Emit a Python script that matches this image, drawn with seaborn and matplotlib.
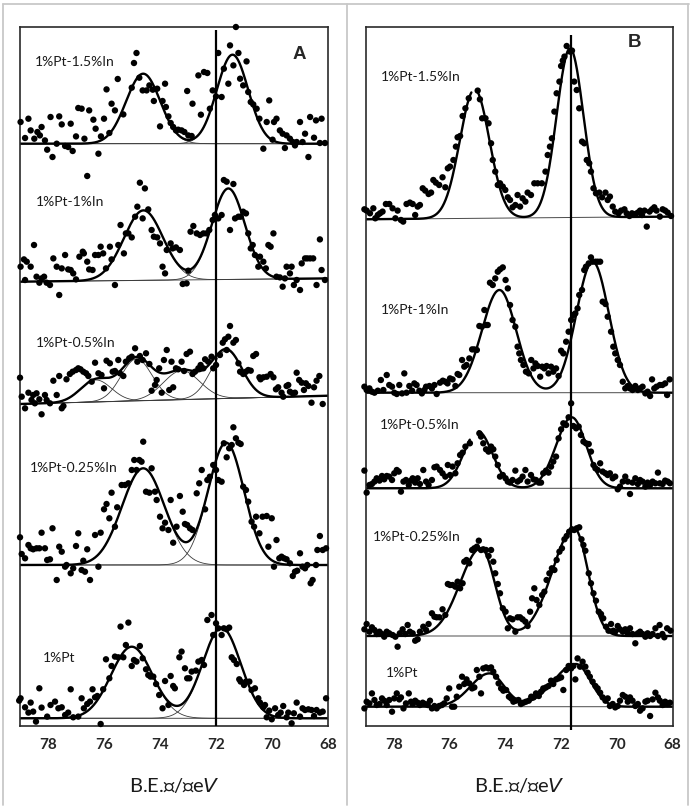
import numpy as np
import pandas as pd
import matplotlib
matplotlib.use("Agg")
import matplotlib.pyplot as plt
import seaborn as sns

# ---------------- data ----------------
samples = ["1%Pt-1.5%In", "1%Pt-1%In", "1%Pt-0.5%In", "1%Pt-0.25%In", "1%Pt"]
tick_values = [78, 76, 74, 72, 70, 68]
ref_line_A = 72.0
ref_line_B = 71.65

# baseline (intensity at 79 eV, at 68 eV) for each spectrum, stacked offsets
base_A = [(582.0, 582.0), (444.0, 447.3), (321.7, 330.0), (160.7, 160.7), (7.4, 7.4)]
base_B = [(506.4, 509.1), (333.0, 333.0), (237.4, 237.4), (89.7, 89.7), (19.0, 19.0)]

# fitted peaks: (centre eV, height, sigma high-BE side, sigma low-BE side)
peaks_A = [
    [(74.61, 70.0, 0.61, 0.61), (71.42, 89.0, 0.56, 0.56)],
    [(74.60, 70.0, 0.70, 0.70), (71.57, 91.0, 0.59, 0.59)],
    [(76.30, 22.0, 0.55, 0.55), (74.85, 42.0, 0.55, 0.55), (73.24, 29.0, 0.65, 0.65), (71.63, 48.0, 0.55, 0.55)],
    [(74.61, 96.7, 0.76, 0.76), (71.65, 122.3, 0.64, 0.64)],
    [(75.02, 71.6, 0.74, 0.74), (71.81, 90.6, 0.68, 0.68)],
]
peaks_B = [
    [(75.10, 129.0, 0.53, 0.53), (71.68, 169.0, 0.48, 0.48)],
    [(74.21, 102.7, 0.63, 0.60), (70.87, 131.0, 0.58, 0.58)],
    [(74.98, 57.0, 0.52, 0.52), (71.62, 71.0, 0.56, 0.52)],
    [(74.87, 87.7, 0.75, 0.49), (71.53, 107.7, 0.78, 0.49)],
    [(74.57, 33.3, 0.68, 0.53), (71.47, 42.7, 0.80, 0.52)],
]
# gaps in the drawn envelope near a peak top (panel B)
gaps_B = [(74.99, 75.21), None, (74.95, 75.27), None, None]

# ---- measured points, panel A (BE in eV, intensity above baseline) ----
A15_be = [78.99,78.71,78.83,78.63,78.50,78.39,78.24,78.30,78.12,78.04,77.85,77.92,77.70,77.61,77.52,77.40,77.29,77.20,77.13,77.01,
          76.93,76.81,76.71,76.54,76.39,76.31,76.21,76.12,76.01,75.92,75.82,75.74,75.62,75.52,75.32,75.02,74.94,74.85,74.75,74.63,
          74.49,74.39,74.27,74.23,74.11,74.01,73.92,73.83,73.80,73.71,73.63,73.54,73.44,73.36,73.24,73.14,73.04,73.00,72.88,72.85,
          72.64,72.55,72.44,72.32,72.23,72.13,72.01,71.93,71.81,71.73,71.57,71.51,71.39,71.30,71.21,71.15,71.04,70.92,70.86,70.77,
          70.68,70.56,70.46,70.32,70.20,70.11,69.99,69.94,69.85,69.73,69.63,69.55,69.49,69.37,69.27,69.19,69.13,69.01,68.92,68.83,
          68.71,68.65,68.51,68.44,68.30,68.24,68.12]
A15_i = [21.7,25,5.7,13.3,5,11.7,16.7,8.3,3.3,-6,-13.3,26.7,0,27.3,19.3,-2.3,-3.3,20,-7.3,7.3,
         35.7,35,5,33.3,24,15,-10,7.3,25,54.3,10.7,40,33.3,64.7,29.3,56,80.7,90.7,66,53.3,
         53.3,58.3,54,42.7,55,17.3,42.7,60,36.7,27.3,20.7,16.7,13.3,14,13.3,11.7,52.7,8.3,7.7,40,
         68.3,29,71.7,70.7,35,53.3,47.3,90.7,46.7,75,60,98.3,78.3,116.7,90.7,65,58.3,82.3,51.7,41.7,
         39.3,35,25,-5,21.7,43.3,4,21.7,25,13.3,10,-4.3,8.3,5,1.7,-1.7,1.7,21.7,1.7,10,
         -13.3,26.7,6,23.3,0.7,25,0.7]

A10_be = [78.99,78.87,78.77,78.63,78.51,78.83,78.42,78.32,78.24,78.15,78.06,77.94,77.82,77.70,77.61,77.52,77.40,77.29,77.20,77.11,
          77.01,76.89,76.77,76.73,76.61,76.61,76.54,76.42,76.33,76.21,76.13,76.04,75.94,75.80,75.74,75.62,75.50,75.42,75.30,75.23,
          75.14,75.02,74.90,74.82,74.73,74.63,74.55,74.43,74.31,74.23,74.11,74.01,73.92,73.83,73.77,73.63,73.56,73.44,73.30,73.20,
          73.06,73.00,72.92,72.82,72.70,72.58,72.46,72.35,72.25,72.13,72.05,71.93,71.81,71.73,71.63,71.51,71.39,71.33,71.21,71.13,
          71.04,70.94,70.86,70.77,70.70,70.62,70.50,70.44,70.32,70.23,70.14,70.06,69.96,69.85,69.73,69.63,69.55,69.49,69.37,69.31,
          69.23,69.13,69.01,68.95,68.83,68.75,68.65,68.54,68.42,68.30,68.24,68.12]
A10_i = [15,22.3,20,15,36.7,1.7,5,-1,3.3,5,-1,-3.3,23.3,15,-13.3,13.3,26.7,12.3,11.7,8.3,
         2.3,25,30,28.3,20,105.7,12.3,11.7,26.7,26.7,35,28.3,13.3,35,22.3,-3.3,36.7,56.7,28.3,48.3,
         48.3,44.3,65,75,99,63.3,93.3,72.3,51.7,45,44.3,38.3,15,8.3,31.7,38.3,33.3,34.3,31.7,-2.3,
         -1.7,11,50,55.7,48.3,46.7,48.3,48.3,51.7,61.7,66.7,63.3,66.7,101.7,100,51.7,97.7,63.3,65,65,
         70,68.3,48.3,33.3,36.7,26.7,15,25,20,13.3,36.7,35,48.3,5,4.3,-5,3.3,15,8.3,15,
         -3.3,1.7,-8.3,18.3,23.3,23.3,23.3,23.3,-3.3,42.3,11.7,1.7]

A05_be = [79.01,78.95,78.83,78.71,78.60,78.54,78.48,78.42,78.32,78.24,78.12,78.06,77.94,77.82,77.70,77.61,77.52,77.46,77.35,77.23,
          77.13,77.01,76.93,76.85,76.75,76.65,76.57,76.45,76.33,76.21,76.10,76.01,75.92,75.80,75.70,75.62,75.50,75.44,75.32,75.23,
          75.11,75.02,74.90,74.82,74.73,74.63,74.51,74.39,74.31,74.19,74.13,74.04,73.95,73.87,73.77,73.68,73.60,73.54,73.44,73.36,
          73.24,73.15,73.06,72.94,72.85,72.76,72.64,72.56,72.46,72.40,72.29,72.17,72.11,72.01,71.87,71.77,71.69,71.63,71.57,71.51,
          71.39,71.30,71.21,71.15,71.04,70.94,70.86,70.77,70.68,70.58,70.46,70.42,70.32,70.20,70.06,69.96,69.87,69.79,69.67,69.61,
          69.49,69.43,69.37,69.27,69.19,69.13,69.04,68.95,68.87,68.80,68.71,68.60,68.51,68.42,68.32,68.20]
A05_i = [26.3,7.3,-4.3,11.3,4,9,0.7,10.7,4.7,-10.3,9,4,0.7,23.3,9,28,-4.3,-2,24.7,30,
         32.3,34,35.7,34.7,32.3,30.7,28,22.3,41.3,30.7,29,15.7,43.3,40.7,32.3,33,44,30.7,28,42.3,
         45.7,47.3,55.7,42.3,48,44,50.7,40,13.3,19,24,35.7,11.3,44,54,14,42.3,16.7,35.7,34.7,
         42.3,33,50,52.3,30,32.3,35.7,39,35.7,44.7,42.3,47.3,35.7,39,49,61.3,64.7,54,67.3,78,
         61.3,64,40.7,32.3,30,32.3,34,33.3,48,50,26.7,24.7,26.7,27.3,30,26.7,14.7,16.7,11.3,7.3,
         18,19,12.3,10.7,11.3,31.3,24,21.3,14,20.7,18,1.3,16.7,23.3,28,0]

A025_be = [79.01,78.95,78.83,78.71,78.63,78.54,78.42,78.32,78.24,78.12,78.04,77.94,77.85,77.70,77.61,77.52,77.40,77.35,77.20,77.11,
           77.01,76.93,76.81,76.75,76.69,76.61,76.51,76.33,76.21,76.13,76.01,75.92,75.82,75.74,75.62,75.54,75.38,75.26,75.14,75.02,
           74.93,74.85,74.75,74.67,74.61,74.51,74.39,74.31,74.19,74.13,74.01,73.92,73.83,73.71,73.63,73.54,73.42,73.30,73.20,73.12,
           73.04,72.94,72.85,72.70,72.61,72.52,72.40,72.32,72.23,72.11,72.01,71.93,71.81,71.73,71.63,71.54,71.45,71.39,71.30,71.21,
           71.13,71.04,70.94,70.86,70.74,70.65,70.58,70.46,70.35,70.20,70.14,70.02,69.94,69.85,69.75,69.67,69.58,69.49,69.37,69.27,
           69.19,69.11,69.01,68.92,68.83,68.75,68.63,68.56,68.44,68.39,68.30,68.20,68.08]
A025_i = [27.7,11,6.7,20,16.7,15.7,16.7,16.7,32.3,16.7,5,5.7,36.7,-15,18.3,13.3,-1.7,0,-8.3,-3.3,
          19,31.7,-5,4.3,-6.7,15.7,-15,30,-1.7,32.3,55.7,61,46.7,72.3,38.3,57.7,80,80,81.7,95,
          105,95,105,103.3,123.3,73.3,72.3,96.7,73.3,65,48.3,36.7,42.3,35,65,22.3,38.3,69,53.3,41,
          40,36.7,35,71.7,81.7,95,55.7,85,88.3,100,95,85,83.3,121.7,107.7,116.7,120,137.7,126.7,122.3,
          121,78.3,75,63.3,43.3,38.3,48.3,31.7,48.3,49,18.3,46.7,-1.7,25,6.7,8.3,6.7,5.7,1.7,-11,
          -6.7,-5.7,11.7,-1.7,-3.3,0,-18.3,-15,0,15,29,15,16.7]

A00_be = [79.04,78.99,78.83,78.71,78.63,78.54,78.44,78.32,78.24,78.04,77.92,77.76,77.64,77.52,77.40,77.29,77.20,77.11,76.93,76.81,
          76.73,76.61,76.51,76.42,76.33,76.25,76.13,76.04,75.94,75.82,75.74,75.62,75.50,75.42,75.32,75.23,75.14,75.02,74.94,74.85,
          74.73,74.63,74.51,74.43,74.35,74.25,74.15,74.04,73.92,73.83,73.71,73.63,73.54,73.48,73.32,73.24,73.12,73.04,72.96,72.88,
          72.73,72.64,72.52,72.44,72.32,72.17,72.11,72.01,71.93,71.81,71.73,71.63,71.54,71.45,71.37,71.27,71.18,71.13,71.01,70.94,
          70.82,70.74,70.62,70.50,70.44,70.32,70.26,70.20,70.11,70.02,69.90,69.79,69.70,69.61,69.49,69.43,69.31,69.23,69.13,69.01,
          68.92,68.83,68.71,68.60,68.51,68.42,68.30,68.20,68.08]
A00_i = [17.7,20,11,5.7,15.7,6.7,-3.3,30,10.7,1.7,13.3,16.7,10,11,3.3,5.7,29,1,1.7,20,
         10,14.3,16.7,29,21,22.3,-5.7,29,59,40,52.3,61.7,61,91.7,61,73.3,95.7,52.3,58.3,56.7,
         72.3,60,49,43.3,41.7,41.7,34.3,23.3,10,37.3,13.3,42.3,32.3,30,61,66.7,50,40,40,46.7,
         47.7,56.7,58.3,53.3,98.3,103.3,83.3,95,90,83.3,90,89,90.7,61,58.3,54.3,39,36.7,33.3,36.7,
         36.7,28.3,30,20,15.7,11,13.3,1,7.7,-1,10,3.3,5.7,12.3,1,5.7,-5,5,15.7,1.7,
         10,8.3,9,8.3,2.3,8.3,5.7,6.7,20]

# ---- measured points, panel B ----
B15_be = [79.05,78.97,78.85,78.73,78.66,78.57,78.49,78.40,78.28,78.16,78.04,77.94,77.86,77.74,77.66,77.54,77.42,77.32,77.23,77.14,
          77.06,76.96,76.87,76.75,76.66,76.58,76.49,76.37,76.25,76.15,76.06,75.98,75.86,75.77,75.71,75.62,75.53,75.43,75.31,74.99,
          74.91,74.83,74.71,74.60,74.51,74.45,74.36,74.27,74.19,74.09,74.00,73.91,73.83,73.74,73.64,73.56,73.47,73.38,73.28,73.20,
          73.08,72.96,72.84,72.69,72.56,72.48,72.40,72.33,72.24,72.16,72.06,72.00,71.94,71.88,71.80,71.68,71.61,71.53,71.44,71.35,
          71.25,71.17,71.08,70.99,70.93,70.84,70.75,70.63,70.53,70.41,70.33,70.25,70.15,70.06,69.94,69.85,69.73,69.65,69.55,69.46,
          69.34,69.25,69.17,69.10,69.01,68.93,68.83,68.74,68.66,68.58,68.46,68.36,68.27,68.18,68.06]
B15_i = [10,8.7,6,11,1,4.3,6,7.7,15.3,15.3,11,1,8.7,-0.7,-2.3,15.3,16.7,15.3,4.3,12.7,
         14.3,31,28.7,25.3,26.7,39.3,36.7,34.3,42,32,51,52.7,59.3,72.7,82,83.3,103.3,111,121,128.7,
         120,101,101,96,76,59.3,47.7,34.3,36,32.7,29.3,22,19.3,12,14.3,24.3,12.7,21,17.7,26.7,
         24.3,36,36,36,47.7,64.3,72.7,81,107.7,126,137.7,153.3,158.7,162.7,173.3,167.7,168.7,137.7,129.3,111,
         77.7,76,59.3,56,47.7,31,26,26.7,22,26.7,19.3,22.7,12.7,7.7,6,8.7,10,6,3.3,6,
         5.3,6.7,8.7,4.3,8.7,-7.3,7.7,10,12,8.7,2.7,10,8.7,6.7,3.3]

B10_be = [79.05,78.97,78.87,78.78,78.69,78.57,78.46,78.37,78.25,78.16,78.06,77.98,77.89,77.80,77.70,77.62,77.54,77.44,77.34,77.26,
          77.18,77.08,76.99,76.90,76.84,76.72,76.63,76.54,76.46,76.34,76.24,76.15,76.07,75.98,75.89,75.79,75.71,75.65,75.55,75.47,
          75.39,75.29,75.19,75.11,75.02,74.93,74.84,74.75,74.69,74.63,74.55,74.45,74.36,74.27,74.19,74.09,73.99,73.91,73.83,73.74,
          73.64,73.56,73.50,73.44,73.35,73.26,73.16,73.07,72.99,72.92,72.84,72.75,72.68,72.60,72.52,72.45,72.36,72.28,72.18,72.09,
          72.00,71.92,71.82,71.73,71.64,71.56,71.49,71.41,71.35,71.25,71.17,71.11,71.01,70.93,70.87,70.77,70.69,70.60,70.51,70.41,
          70.33,70.21,70.13,70.06,69.97,69.89,69.79,69.70,69.61,69.53,69.44,69.34,69.25,69.17,69.08,68.98,68.90,68.81,68.74,68.66,
          68.58,68.46,68.37,68.27,68.20,68.11]
B10_i = [6,2.7,4.3,1,0,2,12.7,2.7,17.7,7.7,6,0,-1.3,7.7,-0.7,19.3,0,6.7,2,9.3,
         7.7,2,-0.7,2.7,6,6.7,4.3,7.7,-1.3,10,12,11,9.3,14.3,13.3,6.7,18.7,17.7,32.7,26,
         27.7,34.3,43.3,43.3,42.7,66.7,66,82.7,67.7,67.7,110,107.7,114.3,121,123.3,125.3,112.7,104.3,87.7,72.7,
         66,46,39.3,32.7,27.7,21,19.3,32.7,24.3,29.3,26.7,16,26,24.3,26.7,19.3,26,21,24.3,16.7,
         42,39.3,51,61,72.7,77.7,79.3,84.3,97.7,102.7,122.7,126,129.3,135.3,131,131,131,131,91,88.7,
         76,61,46,39.3,32.7,27.7,11,4.3,6.7,4.3,2.7,6.7,2.7,4.3,6,-0.7,1,-3.3,13.3,4.3,
         6,7.7,7.7,9.3,-2.3,13.3]

B05_be = [79.05,78.97,78.87,78.78,78.69,78.61,78.51,78.42,78.34,78.25,78.16,78.06,77.98,77.89,77.82,77.74,77.65,77.56,77.46,77.38,
          77.32,77.23,77.14,77.06,76.94,76.84,76.75,76.63,76.54,76.46,76.34,76.25,76.15,76.06,75.98,75.89,75.79,75.71,75.62,75.53,
          75.43,75.27,74.93,74.87,74.79,74.69,74.60,74.51,74.43,74.36,74.27,74.19,74.09,73.99,73.91,73.83,73.74,73.64,73.56,73.47,
          73.38,73.28,73.20,73.08,72.99,72.90,72.80,72.72,72.64,72.54,72.45,72.36,72.28,72.18,72.09,72.00,71.92,71.82,71.73,71.64,
          71.56,71.46,71.37,71.29,71.20,71.11,71.01,70.93,70.84,70.77,70.69,70.60,70.51,70.41,70.33,70.25,70.15,70.06,69.97,69.89,
          69.79,69.70,69.61,69.53,69.44,69.34,69.25,69.17,69.08,68.98,68.90,68.81,68.72,68.62,68.53,68.46,68.36,68.27,68.18,68.10]
B05_i = [17.7,-4.3,3.3,4.3,6.7,10,7.7,12.3,9,12.3,11.7,8.3,15,18.3,16.7,-3.3,6.7,8.3,3.3,7.7,
         10,5.7,10,4.3,18.3,6.7,3.3,8.3,21,21.7,18.3,15,11.7,23.3,13.3,21.7,15,25,33.3,35.7,
         41.7,45,55,51.7,45,39,36.7,41.7,39,31.7,23.3,11.7,13.3,10,6.7,5.7,8.3,17.7,6.7,8.3,
         11.7,18.3,6.7,13.3,9,8.3,5.7,5.7,15,17.7,15.7,21.7,26.7,31.7,50,59,65,63.3,71,85,
         62.3,60,61.7,53.3,46.7,45,44.3,36.7,23.3,20,18.3,25,16.7,15,13.3,15,10,11.7,-1,1.7,
         6.7,11.7,6.7,-5.7,5.7,10,4.3,8.3,6.7,1.7,5.7,3.3,6.7,5,15.7,5,4.3,7.7,6.7,5]

B025_be = [79.05,78.97,78.87,78.78,78.69,78.61,78.51,78.42,78.34,78.25,78.16,78.04,77.94,77.86,77.78,77.68,77.58,77.50,77.42,77.32,
           77.23,77.14,77.06,76.94,76.84,76.75,76.63,76.54,76.46,76.36,76.25,76.15,76.06,75.98,75.89,75.79,75.71,75.62,75.53,75.47,
           75.39,75.29,75.19,75.11,75.02,74.95,74.87,74.79,74.69,74.60,74.51,74.43,74.36,74.27,74.19,74.09,73.99,73.91,73.83,73.74,
           73.64,73.56,73.47,73.38,73.28,73.20,73.11,73.04,72.96,72.88,72.78,72.68,72.60,72.52,72.42,72.33,72.24,72.16,72.06,71.97,
           71.88,71.80,71.71,71.61,71.53,71.44,71.35,71.27,71.20,71.13,71.01,70.93,70.84,70.75,70.65,70.57,70.49,70.39,70.30,70.21,
           70.13,70.06,69.97,69.89,69.79,69.70,69.61,69.53,69.44,69.34,69.25,69.17,69.08,68.98,68.90,68.81,68.72,68.62,68.53,68.47,
           68.37,68.30,68.20,68.08]
B025_i = [6.7,12,4.3,8.7,6,2,4.3,2,-0.7,4.3,2.7,1,-0.7,-10.7,2.7,6.7,2,11,4.3,2.7,
          -4.7,-3.3,4.3,9.3,6,12,22.7,19.3,18.7,18.7,26.7,21,52,51,51,49.3,54.3,47.7,52.7,74.3,
          76,72.7,86,87.7,89.3,95.3,86,86.7,86,80,86,74.3,62.7,52,42.7,27.7,24.3,7.7,17.7,16.7,
          4.3,18.7,18.7,16.7,14.3,10,24.3,37.7,47.7,36,31,41,44.3,56,62.7,67.7,66,76,84.3,87.7,
          96.7,100,104.3,106.7,106,107.7,108.7,96.7,91,85.3,62.7,52.7,42.7,35.3,24.3,22,17.7,9.3,5.3,12,
          5.3,4.3,10,6.7,4.3,6.7,2.7,7.7,2,-7.3,2.7,4.3,2,-0.7,2.7,0,2,7.7,0,11,
          2,-1.3,7.7,5.3]

B00_be = [79.05,78.97,78.87,78.78,78.69,78.61,78.51,78.42,78.34,78.25,78.16,78.06,77.98,77.89,77.80,77.74,77.65,77.56,77.46,77.38,
          77.32,77.23,77.14,77.06,76.96,76.87,76.78,76.70,76.63,76.54,76.46,76.37,76.27,76.19,76.10,76.01,75.91,75.83,75.74,75.65,
          75.55,75.47,75.39,75.29,75.19,75.11,75.02,74.93,74.87,74.79,74.69,74.60,74.51,74.43,74.33,74.24,74.15,74.07,73.97,73.87,
          73.79,73.71,73.62,73.53,73.44,73.35,73.26,73.16,73.07,72.99,72.90,72.80,72.72,72.64,72.54,72.45,72.36,72.28,72.18,72.09,
          72.00,71.92,71.82,71.73,71.64,71.56,71.49,71.41,71.32,71.23,71.13,71.05,70.97,70.87,70.77,70.69,70.60,70.51,70.41,70.33,
          70.25,70.15,70.06,69.97,69.89,69.79,69.70,69.61,69.53,69.44,69.34,69.25,69.17,69.08,68.98,68.90,68.81,68.72,68.62,68.53,
          68.46,68.36,68.27,68.18,68.10]
B00_i = [-1.7,5,3.3,13.3,6.7,1.7,2.7,8.3,6,1.7,6.7,-5,8.3,13.3,7.3,9.3,-1.7,3.3,13.3,5,
         2.7,6,4,1.7,4,2.7,1.7,6,-1.7,0.7,-1.7,0.7,1.7,3.3,8.3,18.3,0,0,10,20,
         30,22.7,27.3,23.3,18.3,19.3,36.7,30,13.3,38.3,39.3,38.3,39.3,35,30,23.3,18.3,16,16.7,10,
         8.3,5,6,6.7,2.7,4,5,6,10,9.3,13.3,10.7,15,18.3,19.3,20.7,26,22.7,27.3,28.3,
         29.3,16.7,36.7,40.7,38.3,40.7,27.3,48.3,40,45,40,34,30,25,20.7,18.3,14,9.3,6,8.3,
         0.7,2.7,-0.7,0.7,6,11.7,10,5,9.3,6,0.7,2.7,-4,-1.7,5,6,-9.3,7.3,14,9.3,
         6,1.7,5,2.7,4]

points_A = [(A15_be, A15_i), (A10_be, A10_i), (A05_be, A05_i), (A025_be, A025_i), (A00_be, A00_i)]
points_B = [(B15_be, B15_i), (B10_be, B10_i), (B05_be, B05_i), (B025_be, B025_i), (B00_be, B00_i)]

# ---------------- style ----------------
sns.set_style("white")
plt.rcParams["font.family"] = ["Lato", "DejaVu Sans", "DejaVu Sans Mono"]

W, H = 692, 807
fig = plt.figure(figsize=(W / 100, H / 100), dpi=100)

# outer light-grey frames
for xs, ys in [((3, 689), (4, 4)), ((3, 3), (4, 805)), ((347, 347), (4, 805)), ((688, 688), (4, 805))]:
    fig.add_artist(plt.Line2D([x / W for x in xs], [1 - y / H for y in ys], color="#c8c8c8", lw=1.3))

axA = fig.add_axes([20.3 / W, 1 - 725.7 / H, 308.0 / W, 699.0 / H])
axB = fig.add_axes([365.8 / W, 1 - 725.7 / H, 306.9 / W, 699.0 / H])

grid = np.linspace(79.2, 67.8, 1200)


def peak(x, c, h, s_hi, s_lo):
    s = np.where(x >= c, s_hi, s_lo)
    return h * np.exp(-(x - c) ** 2 / (2 * s ** 2))


def draw_panel(ax, bases, peaks, points, gaps, components):
    for i in range(len(samples)):
        b0, b1 = bases[i]
        base = b0 + (b1 - b0) * (79 - grid) / 11.0
        # baseline
        sns.lineplot(x=grid, y=base, ax=ax, color="#4a4a4a", lw=0.7, sort=False, estimator=None)
        # components
        if components:
            for p in peaks[i]:
                sns.lineplot(x=grid, y=base + peak(grid, *p), ax=ax, color="#3a3a3a", lw=0.6,
                             sort=False, estimator=None)
        env = base + sum(peak(grid, *p) for p in peaks[i])
        if gaps[i] is None:
            segs = [np.ones_like(grid, dtype=bool)]
        else:
            lo, hi = gaps[i]
            segs = [grid >= hi, grid <= lo]
        for m in segs:
            sns.lineplot(x=grid[m], y=env[m], ax=ax, color="black", lw=1.7, sort=False, estimator=None)
        be, it = points[i]
        df = pd.DataFrame({"BE": be, "I": np.asarray(it) + b0})
        sns.scatterplot(data=df, x="BE", y="I", ax=ax, color="black", s=21, edgecolor="none",
                        clip_on=False, zorder=5)


draw_panel(axA, base_A, peaks_A, points_A, [None] * 5, True)
draw_panel(axB, base_B, peaks_B, points_B, gaps_B, False)

axA.vlines(ref_line_A, 0, 696, color="black", lw=1.6, zorder=6)
axB.vlines(ref_line_B, -4.5, 691, color="black", lw=1.6, zorder=6, clip_on=False)

labA = [(78.47, 664), (78.44, 524), (78.44, 382.4), (78.65, 257.4), (78.18, 67.4)]
labB = [(78.45, 649), (78.45, 415.7), (78.48, 300.7), (78.75, 188.4), (78.28, 52.4)]
for ax, labs in [(axA, labA), (axB, labB)]:
    for s, (x, y) in zip(samples, labs):
        ax.text(x, y, s, ha="left", va="center", fontsize=10, color="#1a1a1a")

axA.text(0.906, 0.96, "A", transform=axA.transAxes, ha="center", va="center",
         fontsize=13.5, fontweight="bold", family=["Liberation Sans", "DejaVu Sans"])
axB.text(0.875, 0.977, "B", transform=axB.transAxes, ha="center", va="center",
         fontsize=13.5, fontweight="bold", family=["Liberation Sans", "DejaVu Sans"])

for ax in (axA, axB):
    ax.set_xlim(79, 68)
    ax.set_ylim(0, 699)
    ax.set_xticks(tick_values)
    ax.set_xticklabels([str(t) for t in tick_values], fontweight="bold", fontsize=11)
    ax.set_yticks([])
    ax.tick_params(axis="x", length=0, pad=9)
    ax.set_xlabel("")
    ax.set_ylabel("")
    for sp in ax.spines.values():
        sp.set_visible(True)
        sp.set_color("#2a2a2a")
        sp.set_linewidth(1.2)
    ax.text(0.5, -0.085, "B.E.\u2370/\u2370e$\\mathit{V}$", transform=ax.transAxes,
            ha="center", va="center", fontsize=14.5, color="#1a1a1a")

fig.savefig("out.png", dpi=100)
